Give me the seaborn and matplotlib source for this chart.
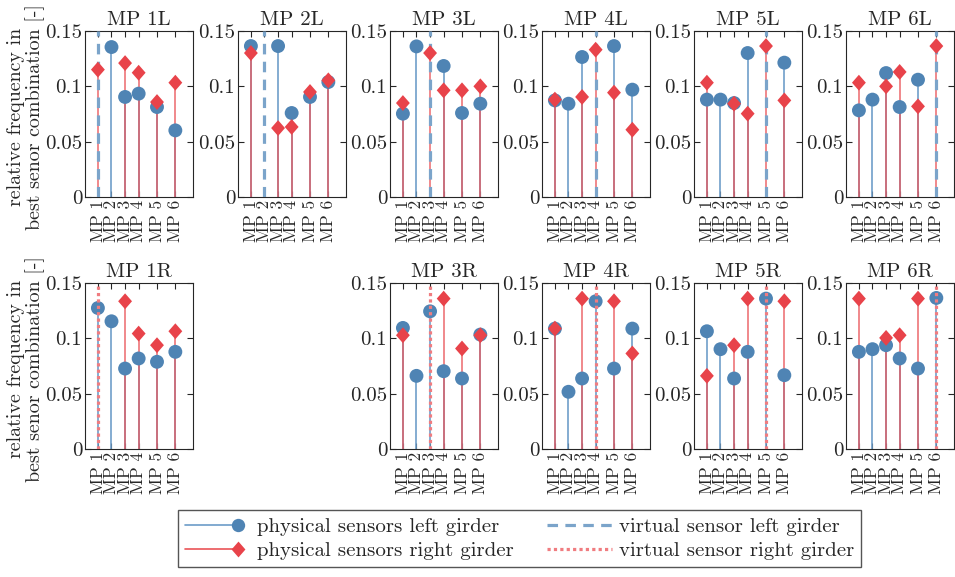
"""Stem charts: relative frequency of each sensor in the best sensor combination."""

import numpy as np
import pandas as pd
import matplotlib
matplotlib.use("Agg")
import matplotlib.pyplot as plt
import seaborn as sns
from matplotlib.lines import Line2D
from matplotlib.legend_handler import HandlerLine2D

nan = np.nan

# ── Data ──────────────────────────────────────────────────
mp_labels = ["MP 1", "MP 2", "MP 3", "MP 4", "MP 5", "MP 6"]
sensor_pos = [1, 2, 3, 4, 5.35, 6.7]

panel_titles = ["MP 1L", "MP 2L", "MP 3L", "MP 4L", "MP 5L", "MP 6L",
                "MP 1R", "MP 3R", "MP 4R", "MP 5R", "MP 6R"]
virtual_idx = [0, 1, 2, 3, 4, 5, 0, 2, 3, 4, 5]

# physical sensors, left girder
left_1L = [nan, 0.1355, 0.0904, 0.0934, 0.0813, 0.0602]
left_2L = [0.1364, nan, 0.1364, 0.0759, 0.0904, 0.1039]
left_3L = [0.0753, 0.1361, nan, 0.1184, 0.0759, 0.0843]
left_4L = [0.0873, 0.0843, 0.1265, nan, 0.1364, 0.0970]
left_5L = [0.0880, 0.0880, 0.0849, 0.1301, nan, 0.1214]
left_6L = [0.0783, 0.0880, 0.1120, 0.0813, 0.1060, nan]
left_1R = [0.1274, 0.1154, 0.0727, 0.0818, 0.0788, 0.0878]
left_3R = [0.1094, 0.0661, 0.1244, 0.0703, 0.0637, 0.1034]
left_4R = [0.1088, 0.0517, 0.0637, 0.1335, 0.0727, 0.1088]
left_5R = [0.1064, 0.0902, 0.0637, 0.0878, 0.1359, 0.0667]
left_6R = [0.0878, 0.0902, 0.0938, 0.0818, 0.0727, 0.1365]

# physical sensors, right girder (no MP 2 on the right girder)
right_1L = [0.1151, nan, 0.1210, 0.1123, 0.0858, 0.1033]
right_2L = [0.1301, nan, 0.0623, 0.0633, 0.0949, 0.1054]
right_3L = [0.0849, nan, 0.1301, 0.0964, 0.0964, 0.1000]
right_4L = [0.0880, nan, 0.0904, 0.1331, 0.0943, 0.0608]
right_5L = [0.1033, nan, 0.0843, 0.0753, 0.1364, 0.0873]
right_6L = [0.1033, nan, 0.1000, 0.1130, 0.0819, 0.1364]
right_1R = [nan, nan, 0.1335, 0.1043, 0.0938, 0.1064]
right_3R = [0.1028, nan, nan, 0.1359, 0.0908, 0.1028]
right_4R = [0.1088, nan, 0.1359, nan, 0.1335, 0.0863]
right_5R = [0.0661, nan, 0.0938, 0.1359, nan, 0.1335]
right_6R = [0.1359, nan, 0.1004, 0.1028, 0.1359, nan]

left_vals = [left_1L, left_2L, left_3L, left_4L, left_5L, left_6L,
             left_1R, left_3R, left_4R, left_5R, left_6R]
right_vals = [right_1L, right_2L, right_3L, right_4L, right_5L, right_6L,
              right_1R, right_3R, right_4R, right_5R, right_6R]

# ── Long table ────────────────────────────────────────────
rows = []
for title, lv, rv in zip(panel_titles, left_vals, right_vals):
    for pos, a, b in zip(sensor_pos, lv, rv):
        rows.append({"panel": title, "pos": pos, "girder": "left", "value": a})
        rows.append({"panel": title, "pos": pos, "girder": "right", "value": b})
df = pd.DataFrame(rows).dropna()

# ── Style ─────────────────────────────────────────────────
sns.set_theme(style="ticks")
plt.rcParams["font.family"] = ["cmr10", "DejaVu Serif"]
plt.rcParams["axes.formatter.use_mathtext"] = True
plt.rcParams["xtick.direction"] = "in"
plt.rcParams["ytick.direction"] = "in"
plt.rcParams["xtick.top"] = True
plt.rcParams["ytick.right"] = True

BLUE = "#4f84b4"
BLUE_STEM = "#6c9cc8"
BLUE_VIRT = "#7ba4ca"
RED = "#e8434a"
RED_STEM = "#ea5458"
RED_VIRT = "#f07c80"
DIAMOND = [(0, 1), (0.875, 0), (0, -1), (-0.875, 0), (0, 1)]

# axes placement (pixels in a 955x577 figure)
W, H = 955, 577
col_left = [85, 238, 390, 542, 694, 846]
ax_w = 108
row_top = [31, 283]
ax_h = 166
panel_cell = [(0, 0), (0, 1), (0, 2), (0, 3), (0, 4), (0, 5),
              (1, 0), (1, 2), (1, 3), (1, 4), (1, 5)]

fig = plt.figure(figsize=(9.55, 5.77), dpi=100)

for k, title in enumerate(panel_titles):
    r, c = panel_cell[k]
    ax = fig.add_axes([col_left[c] / W, 1 - (row_top[r] + ax_h) / H, ax_w / W, ax_h / H])
    sub = df[df["panel"] == title]
    lft = sub[sub["girder"] == "left"]
    rgt = sub[sub["girder"] == "right"]

    ax.vlines(lft["pos"], 0, lft["value"], color=BLUE_STEM, lw=1.3, alpha=0.9, zorder=1)
    ax.vlines(rgt["pos"], 0, rgt["value"], color=RED_STEM, lw=1.3, alpha=0.75, zorder=1.5)
    sns.scatterplot(data=lft, x="pos", y="value", marker="o", s=100, color=BLUE,
                    edgecolor="none", linewidth=0, ax=ax, zorder=2)

    vx = sensor_pos[virtual_idx[k]]
    if title.endswith("L"):
        ax.axvline(vx, color=BLUE_VIRT, lw=2.3, dashes=(3.3, 2.3), zorder=3)
    else:
        ax.axvline(vx, color=RED_VIRT, lw=2.3, dashes=(1, 1), zorder=3)

    sns.scatterplot(data=rgt, x="pos", y="value", marker=DIAMOND, s=130, color=RED,
                    edgecolor="none", linewidth=0, ax=ax, zorder=4)

    ax.set_xlim(0.05, 8.0)
    ax.set_ylim(0, 0.15)
    ax.set_xticks(sensor_pos)
    ax.set_xticklabels(mp_labels, rotation=90, fontsize=12.5)
    ax.set_yticks([0, 0.05, 0.1, 0.15])
    ax.set_yticklabels(["0", "0.05", "0.1", "0.15"], fontsize=15)
    ax.tick_params(length=4, width=0.8, color="#262626", pad=2)
    for sp in ax.spines.values():
        sp.set_color("#262626")
        sp.set_linewidth(0.8)
    ax.set_xlabel("")
    ax.set_title(title, fontsize=15, pad=4)
    if c == 0:
        ax.set_ylabel("relative frequency in\nbest senor combination [-]",
                      fontsize=14.4, labelpad=1, linespacing=1.0)
        ax.yaxis.set_label_coords(-0.37, 0.48)
    else:
        ax.set_ylabel("")


# legend: marker sits near the right end of the line (MATLAB style)
class MarkerAtEnd(HandlerLine2D):
    def create_artists(self, legend, orig_handle, xdescent, ydescent,
                       width, height, fontsize, trans):
        y = (height - ydescent) / 2
        x0, x1 = -xdescent, width - xdescent
        has_marker = orig_handle.get_marker() not in (None, "None", "")
        xm = x0 + 0.82 * (x1 - x0) if has_marker else x1
        line = Line2D([x0, xm], [y, y])
        self.update_prop(line, orig_handle, legend)
        line.set_marker("None")
        line.set_transform(trans)
        if not has_marker:
            return [line]
        mk = Line2D([xm], [y])
        self.update_prop(mk, orig_handle, legend)
        mk.set_linestyle("None")
        mk.set_transform(trans)
        return [line, mk]


handles = [
    Line2D([], [], color=BLUE_STEM, lw=1.2, marker="o", markersize=9.6,
           markerfacecolor=BLUE, markeredgecolor="none"),
    Line2D([], [], color=RED_STEM, lw=1.2, marker=DIAMOND, markersize=11.4,
           markerfacecolor=RED, markeredgecolor="none"),
    Line2D([], [], color=BLUE_VIRT, lw=2.3, dashes=(3.3, 2.3)),
    Line2D([], [], color=RED_VIRT, lw=2.3, dashes=(1, 1)),
]
labels = ["physical sensors left girder", "physical sensors right girder",
          "virtual sensor left girder", "virtual sensor right girder"]
leg = fig.legend(handles, labels, ncol=2, loc="lower center",
                 bbox_to_anchor=(0.544, 0.006), fontsize=15, frameon=True,
                 fancybox=False, framealpha=1, edgecolor="#555555",
                 handlelength=3.1, handletextpad=0.35, columnspacing=1.6,
                 borderpad=0.35, borderaxespad=0.3, labelspacing=0.25,
                 handler_map={Line2D: MarkerAtEnd()})
leg.get_frame().set_linewidth(1.0)

fig.savefig("out.png", dpi=100)
